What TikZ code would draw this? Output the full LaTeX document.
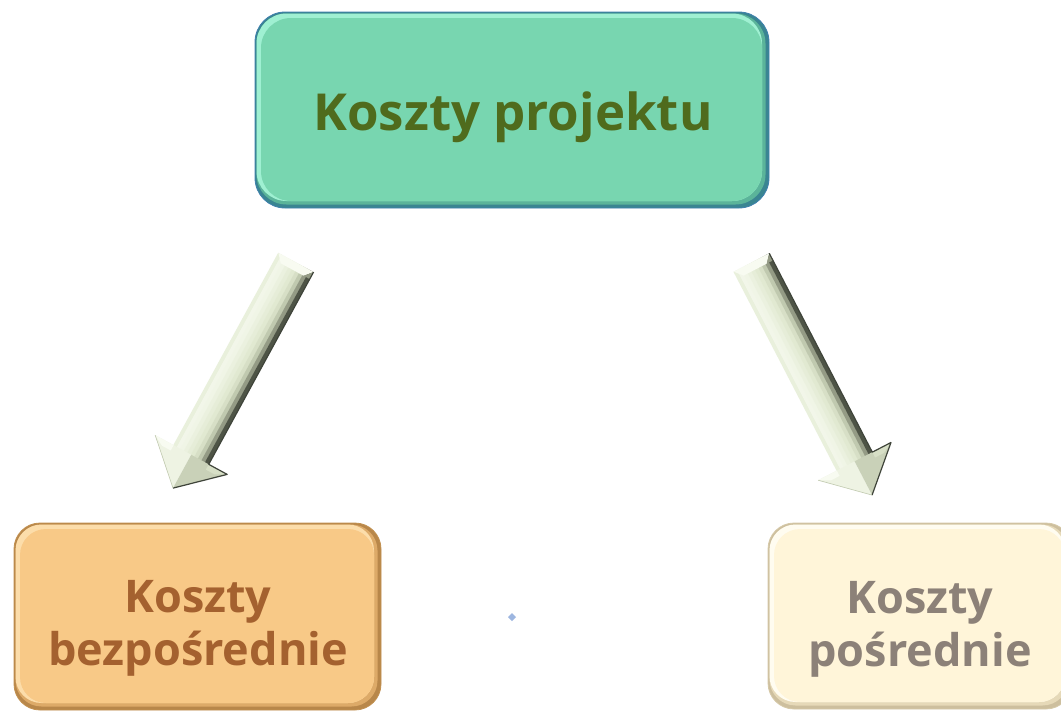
\documentclass[tikz,border=0pt]{standalone}
\usepackage{fontspec}
\setmainfont{Open Sans}
\usetikzlibrary{calc}
% box colours
\definecolor{tline}{HTML}{3F80AE}\definecolor{tdark}{HTML}{3A8591}\definecolor{tlight}{HTML}{9FF0D2}\definecolor{tmid}{HTML}{5BB49A}\definecolor{tmain}{HTML}{78D6B0}\definecolor{ttext}{HTML}{4F6B1D}
\definecolor{lline}{HTML}{C2904F}\definecolor{ldark}{HTML}{B8874A}\definecolor{llight}{HTML}{FCDDAA}\definecolor{lmid}{HTML}{DDAA68}\definecolor{lmain}{HTML}{F8C987}\definecolor{ltext}{HTML}{A4612F}
\definecolor{rline}{HTML}{D6C9A8}\definecolor{rdark}{HTML}{CDBF9E}\definecolor{rlight}{HTML}{FFFCF0}\definecolor{rmid}{HTML}{E6D9B8}\definecolor{rmain}{HTML}{FFF5D9}\definecolor{rtext}{HTML}{8C8178}
% arrow colours
\definecolor{a1}{HTML}{E9F0DC}\definecolor{a2}{HTML}{F2F6E9}\definecolor{a3}{HTML}{F0F5E6}\definecolor{a4}{HTML}{EBF1DF}
\definecolor{a5}{HTML}{E6EDD8}\definecolor{a6}{HTML}{E1E9D1}\definecolor{a7}{HTML}{D7DFC6}\definecolor{a8}{HTML}{C0C9AF}
\definecolor{a9}{HTML}{949B85}\definecolor{a10}{HTML}{4E5446}
\definecolor{hlight}{HTML}{EEF3E3}\definecolor{hdark}{HTML}{C9D1B8}\definecolor{hedge}{HTML}{3F443A}\definecolor{capc}{HTML}{F8FBF1}
\definecolor{dotc}{HTML}{9DB6E0}

\newcommand\bevelbox[6]{%
  \draw[#6line, fill=#6dark, rounded corners=#5pt, line width=0.8pt] (#1,#2) rectangle (#3,#4);
  \fill[#6mid, rounded corners=#5pt] ($(#1,#2)+(1.5,1.5)$) rectangle ($(#3,#4)+(-3.5,-3.5)$);
  \fill[#6light, rounded corners=#5pt] ($(#1,#2)+(1.5,1.5)$) rectangle ($(#3,#4)+(-7,-7)$);
  \fill[#6main, rounded corners=#5pt] ($(#1,#2)+(6,6)$) rectangle ($(#3,#4)+(-7,-7)$);
}
% arrow in local frame: #1 = total length, head length 38, shaft half width 20, head half width 41
\newcommand\fatarrowbody[1]{%
  \pgfmathsetmacro\shaftend{#1-38}
  \foreach \c [count=\i] in {a1,a2,a3,a4,a5,a6,a7,a8,a9,a10}{
    \fill[\c] (0pt,{(-24.3+4*\i)*1pt}) rectangle ({\shaftend*1pt+0.5pt},{(-20+4*\i)*1pt});
  }
  \fill[capc] (0pt,-20pt) -- (8pt,-13pt) -- (8pt,13pt) -- (0pt,20pt) -- cycle;
  \fill[a9] (0pt,20pt) -- (8pt,13pt) -- (8pt,20pt) -- cycle;
  \fill[hlight] ({\shaftend*1pt},-41pt) -- (#1pt,0pt) -- ({\shaftend*1pt},0pt) -- cycle;
  \fill[hdark] ({\shaftend*1pt},0pt) -- (#1pt,0pt) -- ({\shaftend*1pt},41pt) -- cycle;
  \fill[capc] ({\shaftend*1pt},-41pt) -- ({\shaftend*1pt+6pt},-30pt) -- ({\shaftend*1pt+6pt},-20pt) -- ({\shaftend*1pt},-20pt) -- cycle;
  \fill[a7] ({\shaftend*1pt},20pt) -- ({\shaftend*1pt+6pt},20pt) -- ({\shaftend*1pt+6pt},30pt) -- ({\shaftend*1pt},41pt) -- cycle;
  \draw[hedge, line width=1.2pt, line join=round] (0pt,20pt) -- ({\shaftend*1pt},20pt) -- ({\shaftend*1pt},41pt) -- (#1pt,0pt);
  \draw[a8, line width=0.6pt] ({\shaftend*1pt},-41pt) -- (#1pt,0pt);
}

\tikzset{
  toptext/.style={font=\bfseries\fontsize{51}{60}\selectfont, text=ttext, inner sep=0pt},
  lowtext/.style={font=\bfseries\fontsize{45}{53}\selectfont, align=center, inner sep=0pt},
}

\begin{document}
\begin{tikzpicture}[x=1pt, y=-1pt]
\useasboundingbox (0,0) rectangle (1061,712);
\fill[white] (0,0) rectangle (1061,712);

% boxes
\bevelbox{255}{12}{769}{208}{30}{t}
\bevelbox{14}{523}{381}{710}{26}{l}
\bevelbox{768}{523}{1072}{709}{26}{r}

\node[toptext, anchor=base] (top) at (513,130) {Koszty projektu};
\node[lowtext, text=ltext] (direct) at (198,628) {Koszty\\bezpośrednie};
\node[lowtext, text=rtext] (indirect) at (920,629) {Koszty\\pośrednie};

% arrows
\coordinate (S1) at (296,262.5);
\coordinate (T1) at (173,488);
\coordinate (S2) at (751.5,262.5);
\coordinate (T2) at (872,495);
\begin{scope}[shift={(S1)}, rotate=-118.6]
  \fatarrowbody{257}
\end{scope}
\begin{scope}[shift={(S2)}, rotate=-62.6]
  \fatarrowbody{262}
\end{scope}

% small dot
\coordinate (dot) at (512,617);
\fill[dotc] ($(dot)+(0,-4)$) -- ($(dot)+(4,0)$) -- ($(dot)+(0,4)$) -- ($(dot)+(-4,0)$) -- cycle;
\end{tikzpicture}
\end{document}
